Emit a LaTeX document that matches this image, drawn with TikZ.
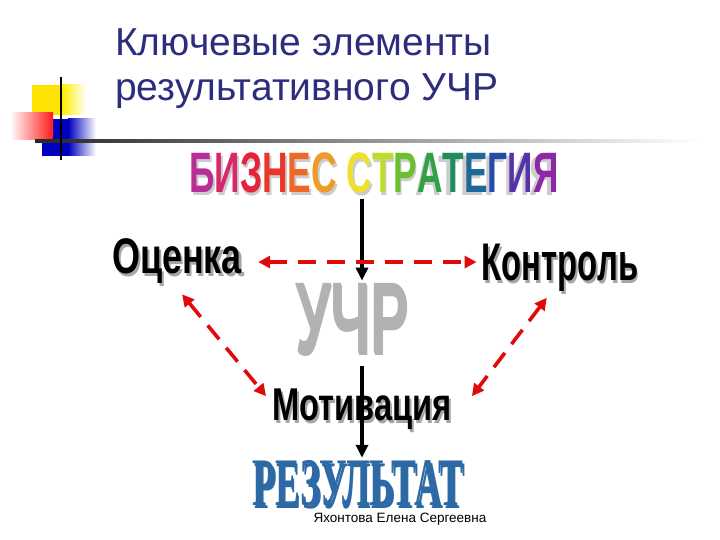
\documentclass[tikz,border=0pt]{standalone}
\usepackage{fontspec}
\setmainfont{Liberation Sans}
\newfontfamily\serifbold{Liberation Serif}
\usepackage{graphicx}
\usetikzlibrary{arrows.meta,positioning}

\definecolor{titleblue}{RGB}{45,45,125}
\definecolor{resblue}{RGB}{45,105,165}
\definecolor{arrred}{RGB}{225,10,10}
\definecolor{cA}{RGB}{185,45,150}
\definecolor{cB}{RGB}{215,40,110}
\definecolor{cC}{RGB}{230,35,60}
\definecolor{cD}{RGB}{232,55,40}
\definecolor{cE}{RGB}{238,105,40}
\definecolor{cF}{RGB}{240,155,40}
\definecolor{cG}{RGB}{238,225,45}
\definecolor{cH}{RGB}{190,220,40}
\definecolor{cI}{RGB}{110,190,50}
\definecolor{cJ}{RGB}{50,160,70}
\definecolor{cK}{RGB}{30,140,95}
\definecolor{cL}{RGB}{30,105,150}
\definecolor{cM}{RGB}{35,75,170}
\definecolor{cN}{RGB}{85,50,170}
\definecolor{cO}{RGB}{140,40,165}

% text with a grey copy behind it
\newcommand\shadowed[3]{\rlap{\kern#2\raisebox{-#2}{\def\textcolor##1##2{##2}\color{#1}#3}}#3}

\begin{document}
\begin{tikzpicture}[x=1pt,y=-1pt,
	title/.style={
		anchor=base west,
		inner sep=0pt,
		text=titleblue,
		font=\fontsize{39}{44}\selectfont
	},
	word/.style={
		anchor=base,
		inner sep=2pt,
		font=\bfseries\fontsize{50}{55}\selectfont
	},
	blk/.style={
		draw=black,
		line width=3.2pt,
		-{Triangle[length=13pt,width=12pt]}
	},
	redarr/.style={
		draw=arrred,
		line width=3.6pt,
		dash pattern=on 18pt off 11pt,
		{Triangle[length=12pt,width=12pt]}-{Triangle[length=12pt,width=12pt]}
	}
	]
	\useasboundingbox (0,0) rectangle (720,540);

	\fill[yellow!85!orange] (32,85) rectangle (62,115);
	\shade[left color=yellow!85!orange,right color=white] (62,85) rectangle (86,115);
	\fill[blue!75!black] (42,119) rectangle (68,156);
	\shade[left color=blue!75!black,right color=white] (68,119) rectangle (96,156);
	\shade[left color=white,right color=red!90] (10,113) rectangle (53,140);
	\shade[left color=black!85,right color=white] (35,139.5) rectangle (700,142.5);
	\draw[line width=2pt] (61,77) -- (61,160);

	\node[title] (title1) at (115,56) {Ключевые элементы};
	\node[title] (title2) at (115,101) {результативного УЧР};

	\node[word] (strat) at (374,193) {\scalebox{0.62}[1]{\fontsize{57}{60}\selectfont\shadowed{black!20}{3pt}{%
		\textcolor{cA}{Б}\textcolor{cB}{И}\textcolor{cC}{З}\textcolor{cD}{Н}\textcolor{cE}{Е}\textcolor{cF}{С}
		\textcolor{cG}{С}\textcolor{cH}{Т}\textcolor{cI}{Р}\textcolor{cJ}{А}\textcolor{cK}{Т}\textcolor{cL}{Е}\textcolor{cM}{Г}\textcolor{cN}{И}\textcolor{cO}{Я}}}};
	\node[word] (ocenka) at (177,273) {\scalebox{0.72}[1]{\shadowed{black!35}{3pt}{Оценка}}};
	\node[word] (kontrol) at (560,280) {\scalebox{0.62}[1]{\fontsize{53}{56}\selectfont\shadowed{black!35}{3pt}{Контроль}}};
	\node[word] (uchr) at (352,353) {\scalebox{0.56}[1]{\fontsize{102}{105}\selectfont\shadowed{black!60}{2pt}{\color{black!30}УЧР}}};
	\node[word] (motiv) at (362,420) {\scalebox{0.71}[1]{\fontsize{46}{50}\selectfont\shadowed{black!35}{3pt}{Мотивация}}};
	\node[word] (rezult) at (358,505) {\scalebox{0.55}[1]{\serifbold\fontsize{68}{70}\selectfont\shadowed{black!35}{3pt}{\color{resblue}РЕЗУЛЬТАТ}}};
	\node[anchor=base,inner sep=0pt,font=\fontsize{13.5}{15}\selectfont] (author) at (400,522) {Яхонтова Елена Сергеевна};

	\draw[blk] (strat.south -| motiv.north) -- (uchr.north -| motiv.north);
	\draw[blk,shorten <=8pt] (uchr.south -| motiv.north) -- (rezult.north -| motiv.north);

	\draw[redarr,shorten <=14pt,shorten >=3pt] (ocenka.east) -- (ocenka.east -| kontrol.west);
	\draw[redarr,shorten <=8pt] (ocenka.south) -- ([xshift=-4pt,yshift=-10pt]motiv.north west);
	\draw[redarr,shorten <=2pt] ([xshift=-12pt]kontrol.south) -- ([xshift=18pt,yshift=-10pt]motiv.north east);
\end{tikzpicture}
\end{document}
